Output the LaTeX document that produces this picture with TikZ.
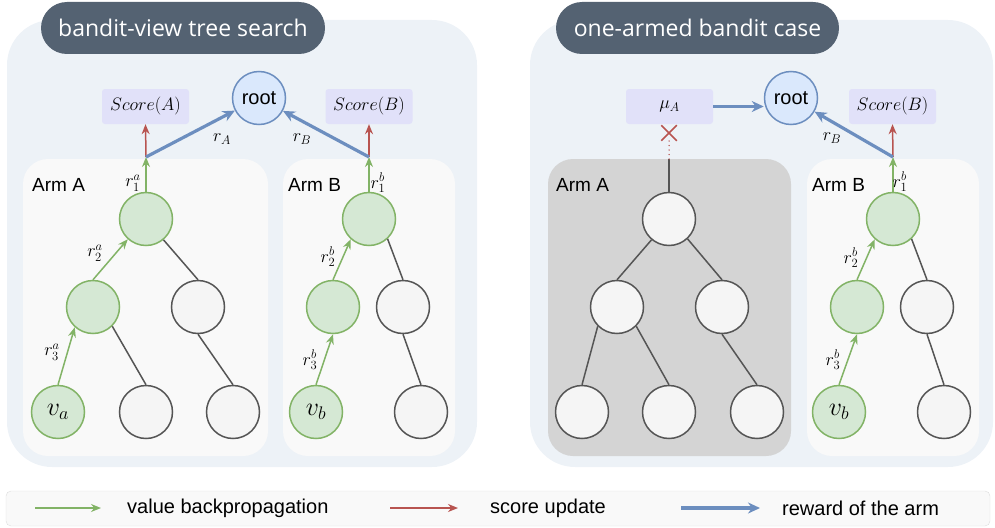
\documentclass[tikz,border=0pt]{standalone}
\usepackage{fix-cm}
\usepackage{amsmath}
\usepackage{fontspec}
\newfontfamily\armfont{Liberation Sans}
\newfontfamily\titlefont{Open Sans}
\usetikzlibrary{arrows.meta,shapes.misc}

\definecolor{panelbg}{HTML}{EDF2F7}
\definecolor{titlebg}{HTML}{546272}
\definecolor{armbg}{HTML}{F9F9F9}
\definecolor{armdark}{HTML}{D4D4D4}
\definecolor{greenfill}{HTML}{D5E8D4}
\definecolor{greenline}{HTML}{82B366}
\definecolor{grayfill}{HTML}{F5F5F5}
\definecolor{grayline}{HTML}{555555}
\definecolor{bluefill}{HTML}{DAE8FC}
\definecolor{blueline}{HTML}{6C8EBF}
\definecolor{scorefill}{HTML}{E1E1F9}
\definecolor{redline}{HTML}{B85450}
\definecolor{legendline}{HTML}{DDDDDD}

\begin{document}
\begin{tikzpicture}[x=1pt,y=-1pt,
    panel/.style={fill=panelbg,rounded corners=45pt},
    titlepill/.style={fill=titlebg,rounded corners=26pt,text=white,minimum height=52pt,
        font=\titlefont\fontsize{23}{26}\selectfont},
    armbox/.style={fill=armbg,rounded corners=25pt},
    armlabel/.style={anchor=west,inner sep=0pt,font=\armfont\fontsize{19}{22}\selectfont},
    treenode/.style={circle,minimum size=53pt,inner sep=0pt,line width=1.5pt},
    visited/.style={treenode,draw=greenline,fill=greenfill,font=\fontsize{26}{30}\selectfont},
    unvisited/.style={treenode,draw=grayline,fill=grayfill},
    rootnode/.style={treenode,draw=blueline,fill=bluefill,font=\armfont\fontsize{20}{24}\selectfont},
    scorebox/.style={fill=scorefill,rounded corners=3pt,minimum width=87pt,minimum height=35pt,
        font=\fontsize{18}{21}\selectfont},
    lbl/.style={inner sep=0pt,font=\fontsize{18}{21}\selectfont},
    treeedge/.style={draw=grayline,line width=1.5pt},
    backprop/.style={draw=greenline,line width=1.5pt,-{Stealth[length=10pt,width=8pt]}},
    scoreup/.style={draw=redline,line width=1.5pt,-{Stealth[length=10pt,width=8pt]}},
    reward/.style={draw=blueline,line width=3.2pt,-{Stealth[length=12pt,width=11pt]}},
    legendtext/.style={anchor=west,inner sep=0pt,font=\armfont\fontsize{20}{24}\selectfont}]

    % fix the page to the reference size
    \useasboundingbox (0,0) rectangle (995,527);

    % ---------------- left panel: bandit-view tree search ----------------
    \fill[panel] (7,20) rectangle (477,467);
    \node[titlepill,minimum width=284pt] (titleL) at (183,28) {bandit-view tree search};
    \fill[armbox] (23,159) rectangle (268,456);
    \fill[armbox] (283,159) rectangle (455,456);
    \node[armlabel] (armAL) at (32,185) {Arm A};
    \node[armlabel] (armBL) at (288,185) {Arm B};

    % root and scores
    \node[rootnode] (rootL) at (259,98) {root};
    \node[scorebox] (scoreA) at (145.5,106.5) {$Score(A)$};
    \node[scorebox] (scoreB) at (369,106.5) {$Score(B)$};
    \coordinate (jA) at (146,157);
    \coordinate (jB) at (369,157);

    % arm A tree
    \node[visited]   (a1) at (146,219) {};
    \node[visited]   (a2) at (93,307) {};
    \node[unvisited] (a3) at (198,307) {};
    \node[visited]   (va) at (58,412) {$v_a$};
    \node[unvisited] (a5) at (146,412) {};
    \node[unvisited] (a6) at (233,412) {};

    % arm B tree
    \node[visited]   (b1) at (369,219) {};
    \node[visited]   (b2) at (333,307) {};
    \node[unvisited] (b3) at (403,307) {};
    \node[visited]   (vb) at (316,412) {$v_b$};
    \node[unvisited] (b5) at (421,412) {};

    % plain tree edges
    \foreach \p/\c in {a1.310/a3.north, a2.315/a5.north, a3.south/a6.north,
                       b1.313/b3.north, b3.south/b5.north}
        \draw[treeedge] (\p) -- (\c);

    % value backpropagation along the paths
    \draw[backprop] (va.north) -- (a2.228);
    \draw[backprop] (a2.north) -- (a1.228);
    \draw[backprop] (a1.north) -- (jA);
    \draw[backprop] (vb.north) -- (b2.south);
    \draw[backprop] (b2.north) -- (b1.228);
    \draw[backprop] (b1.north) -- (jB);

    % score updates and rewards
    \draw[scoreup] (jA) -- (scoreA.south);
    \draw[scoreup] (jB) -- (scoreB.south);
    \draw[reward] (jA) -- (rootL);
    \draw[reward] (jB) -- (rootL);

    % labels
    \node[lbl] (rA) at (222,139) {$r_A$};
    \node[lbl] (rB) at (302,139) {$r_B$};
    \node[lbl] (ra1) at (133,183) {$r_1^a$};
    \node[lbl] (ra2) at (95,253) {$r_2^a$};
    \node[lbl] (ra3) at (52,352) {$r_3^a$};
    \node[lbl] (rb1) at (378,183) {$r_1^b$};
    \node[lbl] (rb2) at (328,257) {$r_2^b$};
    \node[lbl] (rb3) at (310,360) {$r_3^b$};

    % ---------------- right panel: one-armed bandit case ----------------
    \fill[panel] (530,20) rectangle (993,467);
    \node[titlepill,minimum width=283pt] (titleR) at (697.5,28) {one-armed bandit case};
    \fill[armbox,fill=armdark] (548,159) rectangle (791,456);
    \fill[armbox] (807,159) rectangle (979,456);
    \node[armlabel] (armAR) at (556,185) {Arm A};
    \node[armlabel] (armBR) at (812,185) {Arm B};

    % root, fixed value of arm A and score of arm B
    \node[rootnode] (rootR) at (791,98) {root};
    \node[scorebox] (muA) at (669.5,106.5) {$\mu_A$};
    \node[scorebox] (scoreBR) at (892.5,106.5) {$Score(B)$};
    \coordinate (jD) at (893,157);
    \coordinate (cutA) at (669,159);
    \node[cross out,draw=redline,line width=1.5pt,minimum size=14pt,inner sep=0pt] (stopA) at (669,133) {};

    % arm A tree (frozen)
    \node[unvisited] (c1) at (669,219) {};
    \node[unvisited] (c2) at (617,307) {};
    \node[unvisited] (c3) at (722,307) {};
    \node[unvisited] (c4) at (582,412) {};
    \node[unvisited] (c5) at (669,412) {};
    \node[unvisited] (c6) at (757,412) {};

    % arm B tree
    \node[visited]   (d1) at (893,219) {};
    \node[visited]   (d2) at (857,307) {};
    \node[unvisited] (d3) at (927,307) {};
    \node[visited]   (vb2) at (839,412) {$v_b$};
    \node[unvisited] (d5) at (944,412) {};

    \foreach \p/\c in {c1.230/c2.north, c1.313/c3.north, c2.225/c4.north,
                       c2.315/c5.north, c3.south/c6.north,
                       d1.313/d3.north, d3.south/d5.north}
        \draw[treeedge] (\p) -- (\c);

    % arm A is cut off from the root
    \draw[treeedge] (c1.north) -- (cutA);
    \draw[redline,line width=1.5pt,line cap=round,dash pattern=on 0pt off 4.5pt] (cutA) -- (stopA.south);
    \draw[reward] (muA.east) -- (muA.east -| rootR.west);

    \draw[backprop] (vb2.north) -- (d2.south);
    \draw[backprop] (d2.north) -- (d1.228);
    \draw[backprop] (d1.north) -- (jD);
    \draw[scoreup] (jD) -- (scoreBR.south);
    \draw[reward] (jD) -- (rootR);

    \node[lbl] (rBR) at (832,138) {$r_B$};
    \node[lbl] (rd1) at (900,182) {$r_1^b$};
    \node[lbl] (rd2) at (851,258) {$r_2^b$};
    \node[lbl] (rd3) at (833,360) {$r_3^b$};

    % ---------------- legend ----------------
    \draw[draw=legendline,fill=armbg,rounded corners=5pt] (6,491) rectangle (990,526);
    \coordinate (lg1s) at (35,508);  \coordinate (lg1e) at (101,508);
    \coordinate (lg2s) at (390,508); \coordinate (lg2e) at (458,508);
    \coordinate (lg3s) at (681,508); \coordinate (lg3e) at (760,508);
    \draw[backprop] (lg1s) -- (lg1e);
    \draw[scoreup] (lg2s) -- (lg2e);
    \draw[reward] (lg3s) -- (lg3e);
    \node[legendtext] (lg1) at (127,508) {value backpropagation};
    \node[legendtext] (lg2) at (490,508) {score update};
    \node[legendtext] (lg3) at (782,508) {reward of the arm};
\end{tikzpicture}
\end{document}
